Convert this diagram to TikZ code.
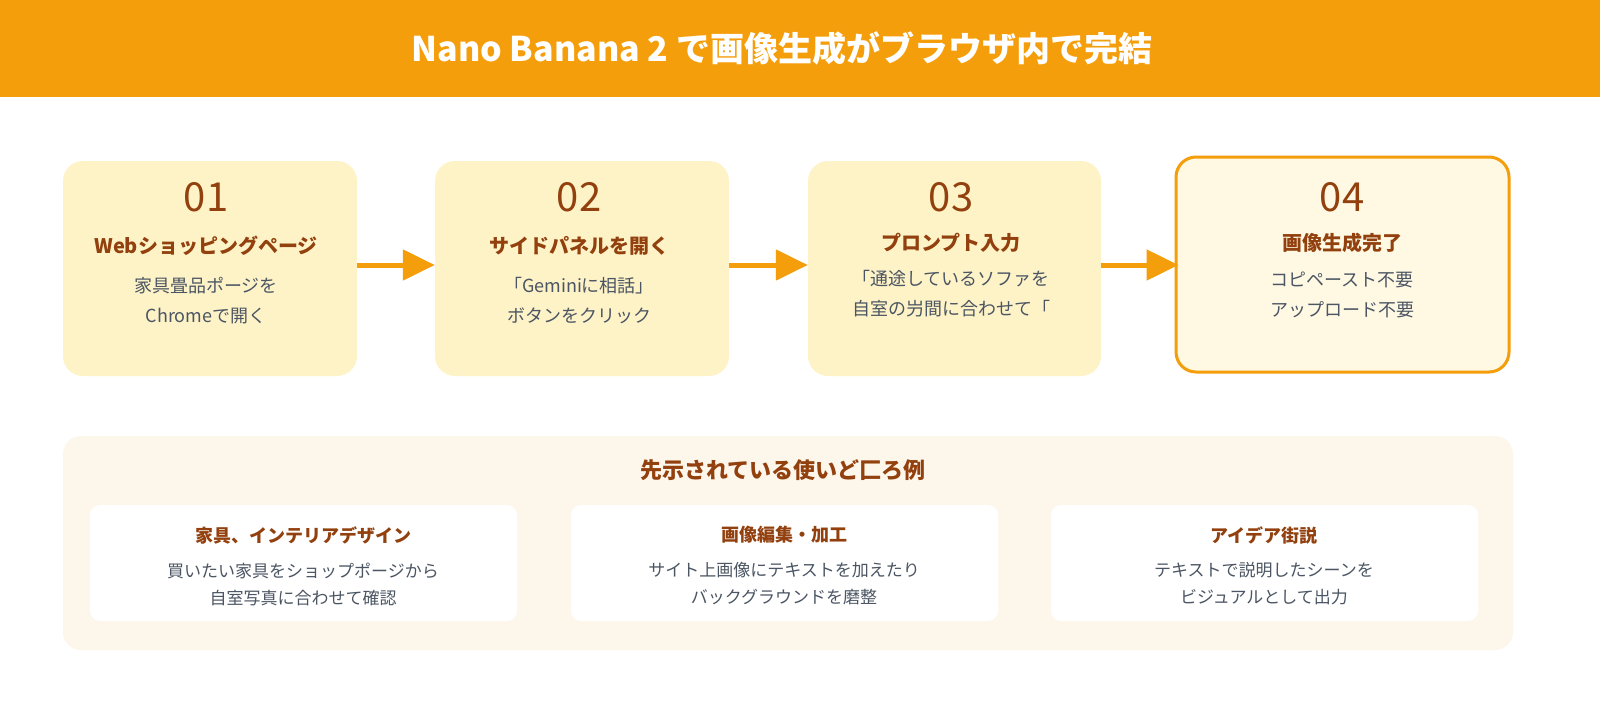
\documentclass[tikz,border=0pt]{standalone}
\usepackage{fontspec}
\setmainfont{Noto Sans CJK JP}
\usetikzlibrary{arrows.meta}
\definecolor{orng}{HTML}{F59E0B}
\definecolor{brn}{HTML}{92400E}
\definecolor{gry}{HTML}{4B5563}
\definecolor{stepbg}{HTML}{FEF3C7}
\definecolor{lastbg}{HTML}{FFF9E3}
\definecolor{panelbg}{HTML}{FDF6EA}
\begin{document}
\begin{tikzpicture}[x=1pt,y=-1pt,
  stepbox/.style={fill=stepbg,draw=none,rounded corners=20pt,inner sep=0pt,minimum height=215pt},
  num/.style={text=brn,font=\fontsize{40}{44}\selectfont},
  stitle/.style={text=brn,font=\bfseries\fontsize{20}{24}\selectfont},
  desc/.style={text=gry,font=\fontsize{18}{30}\selectfont,align=center},
  card/.style={fill=white,draw=none,rounded corners=10pt,inner sep=0pt,minimum width=427pt,minimum height=116pt},
  ctitle/.style={text=brn,font=\bfseries\fontsize{18}{22}\selectfont},
  cdesc/.style={text=gry,font=\fontsize{17}{27}\selectfont,align=center},
  arr/.style={draw=orng,line width=5pt,-{Triangle[length=32pt,width=30pt]}}]
\useasboundingbox (0,0) rectangle (1600,720);
\fill[white] (0,0) rectangle (1600,720);
\node[fill=orng,minimum width=1600pt,minimum height=97pt,inner sep=0pt] (head) at (800,48.5) {};
\node[text=white,font=\bfseries\fontsize{34}{40}\selectfont] (title) at (782,48) {Nano Banana 2 で画像生成がブラウザ内で完結};
% steps
\node[stepbox,minimum width=294pt] (s1) at (210,268.5) {};
\node[stepbox,minimum width=294pt] (s2) at (582,268.5) {};
\node[stepbox,minimum width=293pt] (s3) at (954.5,268.5) {};
\node[stepbox,fill=lastbg,draw=orng,line width=3pt,minimum width=333pt] (s4) at (1342.5,264.5) {};
\node[num] (n1) at (206,197) {01};
\node[stitle] (t1) at (206,246) {Webショッピングページ};
\node[desc] (d1) at (206,301) {家具畳品ポージを\\Chromeで開く};
\node[num] (n2) at (579,197) {02};
\node[stitle] (t2) at (579,246) {サイドパネルを開く};
\node[desc] (d2) at (579,301) {「Geminiに相話」\\ボタンをクリック};
\node[num] (n3) at (951,197) {03};
\node[stitle] (t3) at (951,243) {プロンプト入力};
\node[desc] (d3) at (951,294) {「通途しているソファを\\自室の屶間に合わせて「};
\node[num] (n4) at (1342,197) {04};
\node[stitle] (t4) at (1342,243) {画像生成完了};
\node[desc] (d4) at (1342,295) {コピペースト不要\\アップロード不要};
\draw[arr] (s1.east |- 0,265) -- (s2.west |- 0,265);
\draw[arr] (s2.east |- 0,265) -- (s3.west |- 0,265);
\draw[arr] (s3.east |- 0,265) -- ([xshift=4pt]s4.west |- 0,265);
% panel
\node[fill=panelbg,rounded corners=18pt,minimum width=1450pt,minimum height=214pt,inner sep=0pt] (panel) at (788,543) {};
\node[text=brn,font=\bfseries\fontsize{22}{26}\selectfont] (ptitle) at (783,470) {先示されている使いど匚ろ例};
\node[card] (k1) at (303.5,563) {};
\node[card] (k2) at (784.5,563) {};
\node[card] (k3) at (1264.5,563) {};
\node[ctitle] (c1) at (303,535) {家具、インテリアデザイン};
\node[cdesc] (e1) at (303,584) {買いたい家具をショップポージから\\自室写真に合わせて確認};
\node[ctitle] (c2) at (784,535) {画像編集・加工};
\node[cdesc] (e2) at (784,584) {サイト上画像にテキストを加えたり\\バックグラウンドを磨整};
\node[ctitle] (c3) at (1264,535) {アイデア街説};
\node[cdesc] (e3) at (1264,584) {テキストで説明したシーンを\\ビジュアルとして出力};
\end{tikzpicture}
\end{document}
